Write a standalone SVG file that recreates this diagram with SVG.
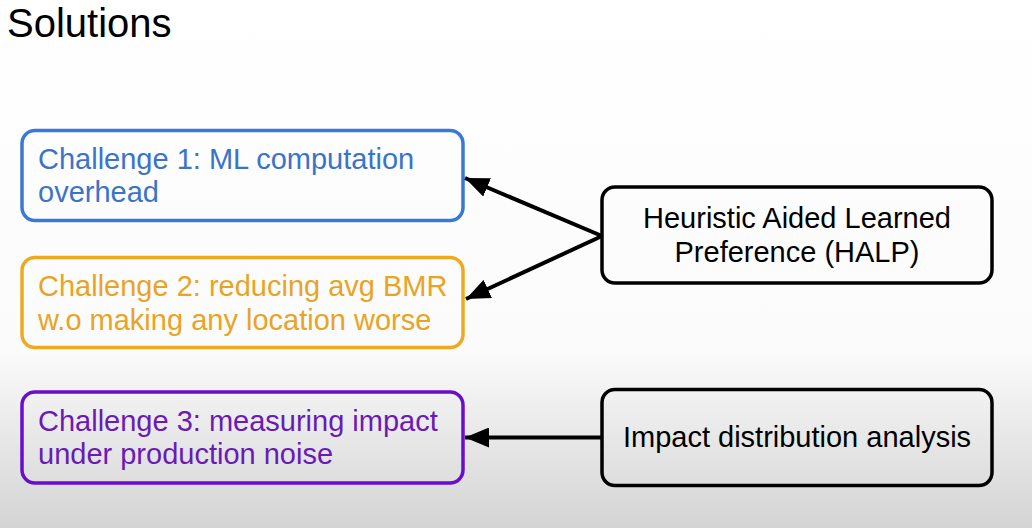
<svg xmlns="http://www.w3.org/2000/svg" width="1032" height="528" viewBox="0 0 1032 528">
<defs>
<linearGradient id="bg" x1="0" y1="0" x2="0" y2="528" gradientUnits="userSpaceOnUse">
<stop offset="0" stop-color="#ffffff"/>
<stop offset="0.66" stop-color="#fbfbfb"/>
<stop offset="1" stop-color="#d4d4d4"/>
</linearGradient>
<marker id="ah" viewBox="0 0 24 20" refX="24" refY="10" markerWidth="24" markerHeight="20" markerUnits="userSpaceOnUse" orient="auto">
<path d="M0,0 L24,10 L0,20 Z" fill="#000"/>
</marker>
<style>
text{font-family:"Liberation Sans",Arial,sans-serif;font-size:29px}
.box{fill:none;stroke-width:3.5}
.c1{stroke:#3a78d8}
.c2{stroke:#eeaa1e}
.c3{stroke:#6a0dcc}
.k{stroke:#000}
.t1{fill:#3b73c9}
.t2{fill:#e8a425}
.t3{fill:#6a1bb5}
.tk{fill:#000;text-anchor:middle}
.conn{stroke:#000;stroke-width:4;fill:none;marker-end:url(#ah)}
</style>
</defs>
<rect x="0" y="0" width="1032" height="528" fill="url(#bg)"/>
<text x="7" y="37" style="font-size:40px" fill="#000">Solutions</text>
<g id="challenge1">
<rect class="box c1" x="22" y="130.5" width="441" height="90" rx="13"/>
<text class="t1" x="38" y="169">Challenge 1: ML computation</text>
<text class="t1" x="38" y="202">overhead</text>
</g>
<g id="challenge2">
<rect class="box c2" x="22" y="257.5" width="441" height="90" rx="13"/>
<text class="t2" x="38" y="296">Challenge 2: reducing avg BMR</text>
<text class="t2" x="38" y="330">w.o making any location worse</text>
</g>
<g id="challenge3">
<rect class="box c3" x="22" y="392" width="441" height="91" rx="13"/>
<text class="t3" x="38" y="431">Challenge 3: measuring impact</text>
<text class="t3" x="38" y="464">under production noise</text>
</g>
<g id="halp">
<rect class="box k" x="602" y="187" width="390" height="96" rx="13"/>
<text class="tk" x="797" y="228">Heuristic Aided Learned</text>
<text class="tk" x="797" y="262">Preference (HALP)</text>
</g>
<g id="impact">
<rect class="box k" x="602" y="389.5" width="390" height="96" rx="13"/>
<text class="tk" x="797" y="447">Impact distribution analysis</text>
</g>
<g id="connectors">
<line class="conn" x1="602" y1="236" x2="465" y2="178"/>
<line class="conn" x1="602" y1="236" x2="466" y2="299"/>
<line class="conn" x1="602" y1="437.5" x2="465" y2="437.5"/>
</g>
</svg>
